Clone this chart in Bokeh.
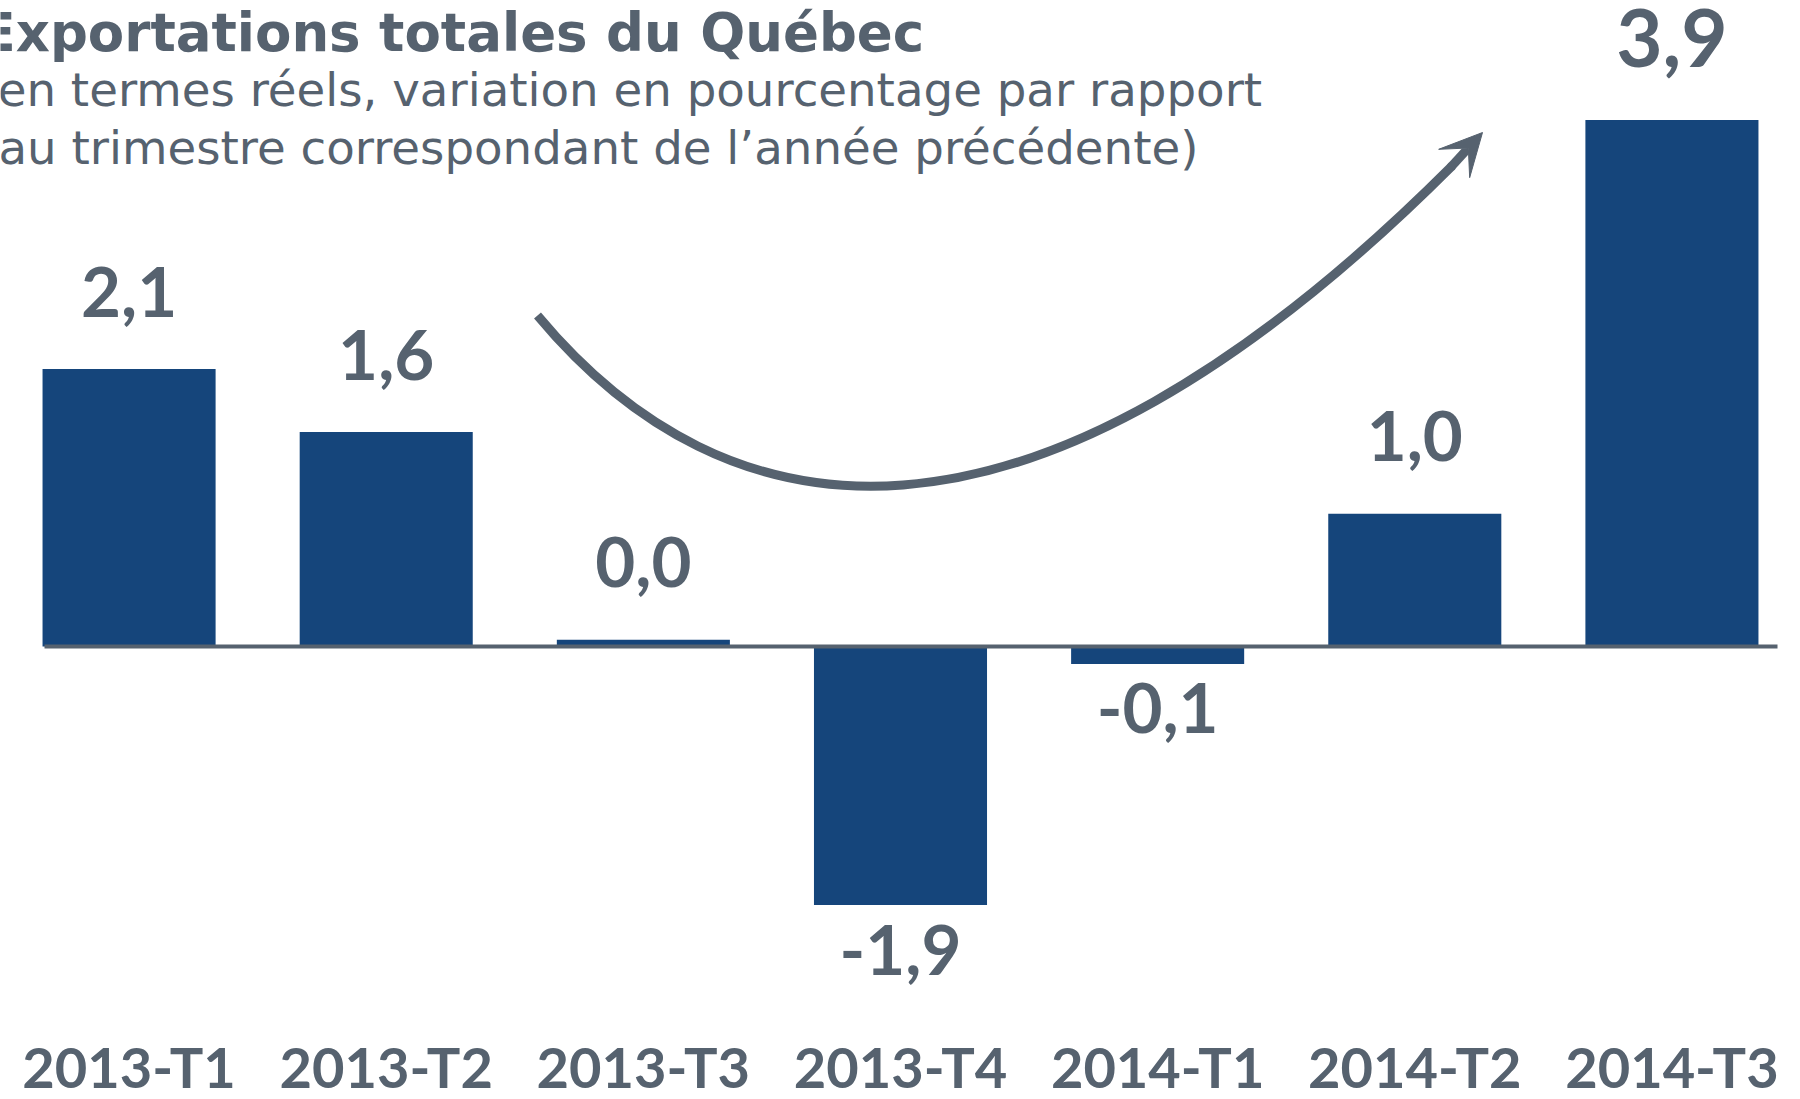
from bokeh.plotting import figure
from bokeh.models import ColumnDataSource, Label, Arrow, VeeHead, FactorRange, Range1d
from bokeh.core.properties import value
from bokeh.embed import file_html
from bokeh.resources import INLINE
import numpy as np

# ---- data ----
categories = ["2013-T1", "2013-T2", "2013-T3", "2013-T4", "2014-T1", "2014-T2", "2014-T3"]
values = [2.07, 1.6, 0.05, -1.93, -0.13, 0.99, 3.93]
value_labels = ["2,1", "1,6", "0,0", "-1,9", "-0,1", "1,0", "3,9"]

title_text = "Exportations totales du Québec"
subtitle_1 = "(en termes réels, variation en pourcentage par rapport"
subtitle_2 = "au trimestre correspondant de l\u2019année précédente)"

# ---- style / layout ----
BAR_COLOR = "#15457b"
TEXT_COLOR = "#56626f"
W = 1800
H = 1099
ZERO_PX = 646.0
PX_PER_UNIT = 134.0
PX_PER_CAT = W / len(categories)
SHIFT = 0.37  # empirical baseline shift (em) of svg text

def dx(px):
    return px / PX_PER_CAT

def dy(py):
    return (ZERO_PX - py) / PX_PER_UNIT

p = figure(
    x_range=FactorRange(factors=categories, range_padding=0),
    y_range=Range1d(dy(H), dy(0)),
    width=W, height=H,
    output_backend="svg", toolbar_location=None, min_border=0,
)
p.outline_line_color = None
p.xgrid.visible = False
p.ygrid.visible = False
p.xaxis.visible = False
p.yaxis.visible = False
p.background_fill_color = "white"
p.border_fill_color = "white"

vals = np.array(values)
sizes = np.where(vals == vals.max(), 80, 69)
src = ColumnDataSource(dict(
    cat=categories,
    val=values,
    lab=value_labels,
    size=[f"{s}px" for s in sizes],
    yoff=(np.where(vals >= 0, -52, 70) - SHIFT * sizes).tolist(),
))

p.vbar(x="cat", top="val", bottom=0, width=0.673, source=src,
       fill_color=BAR_COLOR, line_color=None)

# zero line
p.segment(x0=[dx(44)], y0=[0], x1=[dx(1777)], y1=[0],
          line_color=TEXT_COLOR, line_width=4)

p.text(x="cat", y="val", text="lab", source=src, y_offset="yoff",
       text_align="center", text_baseline="alphabetic",
       text_font=value("Lato"), text_font_style="bold",
       text_font_size="size", text_color=TEXT_COLOR)

# category (tick) labels along the bottom
TICK_SIZE = 56
p.text(x=categories, y=[dy(1087)] * len(categories), text=categories,
       y_offset=-SHIFT * TICK_SIZE,
       text_align="center", text_baseline="alphabetic",
       text_font=value("Lato"), text_font_style="bold",
       text_font_size=f"{TICK_SIZE}px", text_color=TEXT_COLOR)

# curved arrow
p.bezier(x0=[dx(537)], y0=[dy(315)], x1=[dx(1452)], y1=[dy(165)],
         cx0=[dx(722)], cy0=[dy(537)], cx1=[dx(1022)], cy1=[dy(595)],
         line_color=TEXT_COLOR, line_width=9)
p.add_layout(Arrow(
    end=VeeHead(size=42, fill_color=TEXT_COLOR, line_color=TEXT_COLOR, line_width=1),
    x_start=dx(1450), y_start=dy(167), x_end=dx(1482), y_end=dy(132),
    line_color=TEXT_COLOR, line_width=9))

# titles
T_SIZE = 53
S_SIZE = 46.7
p.add_layout(Label(x=-21, y=H - (51.5 - SHIFT * T_SIZE), x_units="screen", y_units="screen",
                   text=title_text, text_font="DejaVu Sans", text_font_style="bold",
                   text_font_size=f"{T_SIZE}px", text_color=TEXT_COLOR,
                   text_baseline="alphabetic"))
p.add_layout(Label(x=-21, y=H - (107 - SHIFT * S_SIZE), x_units="screen", y_units="screen",
                   text=subtitle_1, text_font="DejaVu Sans",
                   text_font_size=f"{S_SIZE}px", text_color=TEXT_COLOR,
                   text_baseline="alphabetic"))
p.add_layout(Label(x=-2, y=H - (164.5 - SHIFT * S_SIZE), x_units="screen", y_units="screen",
                   text=subtitle_2, text_font="DejaVu Sans",
                   text_font_size=f"{S_SIZE}px", text_color=TEXT_COLOR,
                   text_baseline="alphabetic"))

open("out.html", "w").write(file_html(p, INLINE))
